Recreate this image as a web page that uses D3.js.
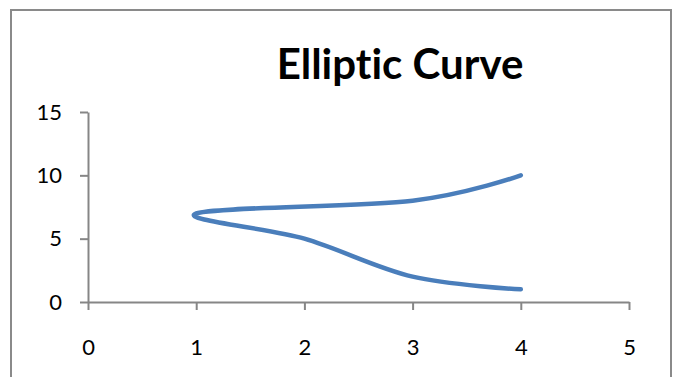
<!DOCTYPE html>
<html>
<head>
<meta charset="utf-8">
<script src="https://cdn.jsdelivr.net/npm/d3@7"></script>
<style>
  body { margin: 0; background: #fff; }
  svg { display: block; }
  text { font-variant-ligatures: none; font-feature-settings: "liga" 0; }
  .tick text { font-family: Lato, "Open Sans", sans-serif; font-size: 22px; fill: #000; }
</style>
</head>
<body>
<svg id="svg"></svg>
<script>
/* Elliptic Curve - smoothed scatter line, Excel style */

// data points in drawing order
let xValues = [4, 3, 2, 1, 3, 4];
let yValues = [1, 2, 5, 7, 8, 10];

let xTicks = [0, 1, 2, 3, 4, 5];
let yTicks = [0, 5, 10, 15];

let chartTitle = "Elliptic Curve";

function createVisualization() {
  let w = 676, h = 377;
  let svg = d3.select("#svg")
              .attr('width', w)
              .attr('height', h);

  // outer frame
  svg.append('rect')
     .attr('x', 11).attr('y', 10)
     .attr('width', 660).attr('height', 400)
     .attr('fill', 'none')
     .attr('stroke', '#8a8a8a')
     .attr('stroke-width', 2);

  let x = d3.scaleLinear().domain([0, 5]).range([88, 629]);
  let y = d3.scaleLinear().domain([0, 15]).range([302, 112]);

  // axes
  let xAxis = d3.axisBottom(x).tickValues(xTicks).tickFormat(d3.format('d'))
                .tickSizeInner(8).tickSizeOuter(0).tickPadding(29);
  let yAxis = d3.axisLeft(y).tickValues(yTicks).tickFormat(d3.format('d'))
                .tickSizeInner(8).tickSizeOuter(0).tickPadding(18);

  let gx = svg.append('g').attr('transform', 'translate(0,' + y(0) + ')').call(xAxis);
  let gy = svg.append('g').attr('transform', 'translate(' + x(0) + ',0)').call(yAxis);

  [gx, gy].forEach(g => {
    g.select('.domain').attr('stroke', '#868686').attr('stroke-width', 2);
    g.selectAll('.tick line').attr('stroke', '#868686').attr('stroke-width', 2);
    g.selectAll('.tick text').attr('font-family', null).attr('font-size', null);
  });

  // smooth curve through the points
  let points = xValues.map((v, i) => [v, yValues[i]]);
  let line = d3.line()
               .x(d => x(d[0]))
               .y(d => y(d[1]))
               .curve(d3.curveCardinal.tension(0));

  svg.append('path')
     .datum(points)
     .attr('d', line)
     .attr('fill', 'none')
     .attr('stroke', '#4a7ebb')
     .attr('stroke-width', 4.5)
     .attr('stroke-linecap', 'round')
     .attr('stroke-linejoin', 'round');

  // title
  svg.append('text')
     .attr('x', 400)
     .attr('y', 79)
     .attr('text-anchor', 'middle')
     .style('font-family', 'Lato, "Open Sans", sans-serif')
     .style('font-weight', 'bold')
     .style('font-size', '42px')
     .text(chartTitle);
}

window.onload = function() {
  createVisualization();
};
</script>
</body>
</html>
